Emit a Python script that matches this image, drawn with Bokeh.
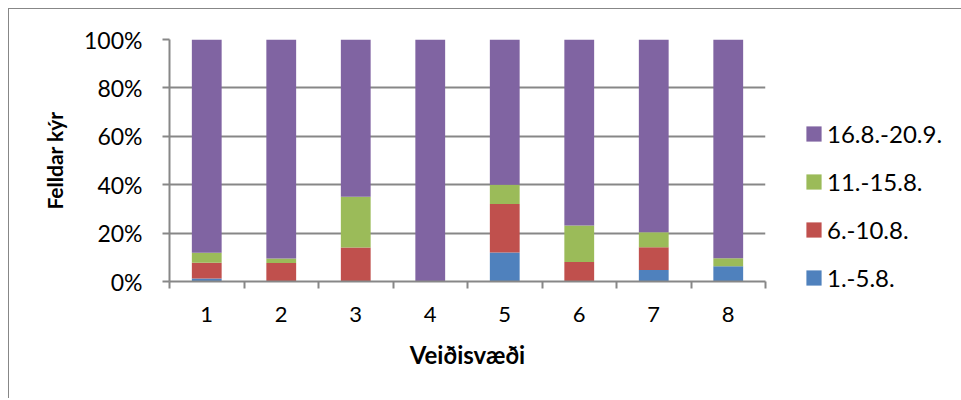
from bokeh.plotting import figure
from bokeh.models import FixedTicker, PrintfTickFormatter, Legend, LegendItem, Range1d
from bokeh.embed import file_html
from bokeh.resources import INLINE

zones = [1, 2, 3, 4, 5, 6, 7, 8]
s_1_5 = [1.2, 0, 0, 0, 12.0, 0, 4.8, 6.3]
s_6_10 = [6.5, 7.6, 14.0, 0, 20.0, 8.1, 9.4, 0]
s_11_15 = [4.2, 1.9, 21.0, 0, 8.0, 15.0, 6.2, 3.3]
s_16_20 = [88.1, 90.5, 65.0, 100.0, 60.0, 77.0, 79.6, 90.4]
series_names = ["1.-5.8.", "6.-10.8.", "11.-15.8.", "16.8.-20.9."]
colors = ["#4F81BD", "#C0504D", "#9BBB59", "#8064A2"]
y_ticks = [0, 20, 40, 60, 80, 100]

FONT = "Lato"
GRAY = "#878787"

data = {"x": zones, "a": s_1_5, "b": s_6_10, "c": s_11_15, "d": s_16_20}

p = figure(frame_width=596, frame_height=242, output_backend="svg", toolbar_location=None,
           x_range=Range1d(0.5, 8.5), y_range=Range1d(0, 100))
p.min_border_left = 160
p.min_border_right = 190
p.min_border_top = 30
p.min_border_bottom = 117
p.outline_line_color = None
p.styles = {"border-left": "1px solid #878787", "border-top": "1px solid #878787",
            "margin-left": "8px", "margin-top": "8px"}

rs = p.vbar_stack(["a", "b", "c", "d"], x="x", width=0.4, color=colors,
                  line_color=None, source=data)

# x axis
xa = p.xaxis[0]
xa.ticker = FixedTicker(ticks=zones, minor_ticks=[z + 0.5 for z in [0] + zones])
xa.major_tick_line_color = None
xa.minor_tick_out = 7
xa.minor_tick_in = 0
xa.minor_tick_line_color = GRAY
xa.axis_line_color = GRAY
xa.axis_line_width = 2
xa.minor_tick_line_width = 2
xa.major_label_text_font = FONT
xa.major_label_text_font_size = "22px"
xa.major_label_text_color = "black"
xa.major_label_standoff = 18
xa.axis_label = "Veiðisvæði"
xa.axis_label_text_font = FONT
xa.axis_label_text_font_style = "bold"
xa.axis_label_text_font_size = "24px"
xa.axis_label_text_color = "black"
xa.axis_label_standoff = 15

# y axis
ya = p.yaxis[0]
ya.ticker = FixedTicker(ticks=y_ticks)
ya.formatter = PrintfTickFormatter(format="%d%%")
ya.major_tick_out = 7
ya.major_tick_in = 0
ya.minor_tick_line_color = None
ya.major_tick_line_color = GRAY
ya.major_tick_line_width = 2
ya.axis_line_color = GRAY
ya.axis_line_width = 2
ya.major_label_text_font = FONT
ya.major_label_text_font_size = "23px"
ya.major_label_text_color = "black"
ya.major_label_standoff = 20
ya.axis_label = "Felldar kýr"
ya.axis_label_text_font = FONT
ya.axis_label_text_font_style = "bold"
ya.axis_label_text_font_size = "21px"
ya.axis_label_text_color = "black"
ya.axis_label_standoff = 14

p.xgrid.grid_line_color = None
p.ygrid.grid_line_color = GRAY
p.ygrid.grid_line_width = 2
p.ygrid.ticker = FixedTicker(ticks=y_ticks)

items = [LegendItem(label=series_names[i], renderers=[rs[i]]) for i in [3, 2, 1, 0]]
legend = Legend(items=items, location=(39, -11))
legend.glyph_width = 19
legend.glyph_height = 19
legend.label_height = 20
legend.spacing = 19
legend.padding = 0
legend.margin = 0
legend.label_standoff = 4
legend.label_text_font = FONT
legend.label_text_font_size = "24px"
legend.label_text_color = "black"
legend.border_line_color = None
legend.background_fill_alpha = 0
p.add_layout(legend, "right")

open("out.html", "w").write(file_html(p, INLINE))
